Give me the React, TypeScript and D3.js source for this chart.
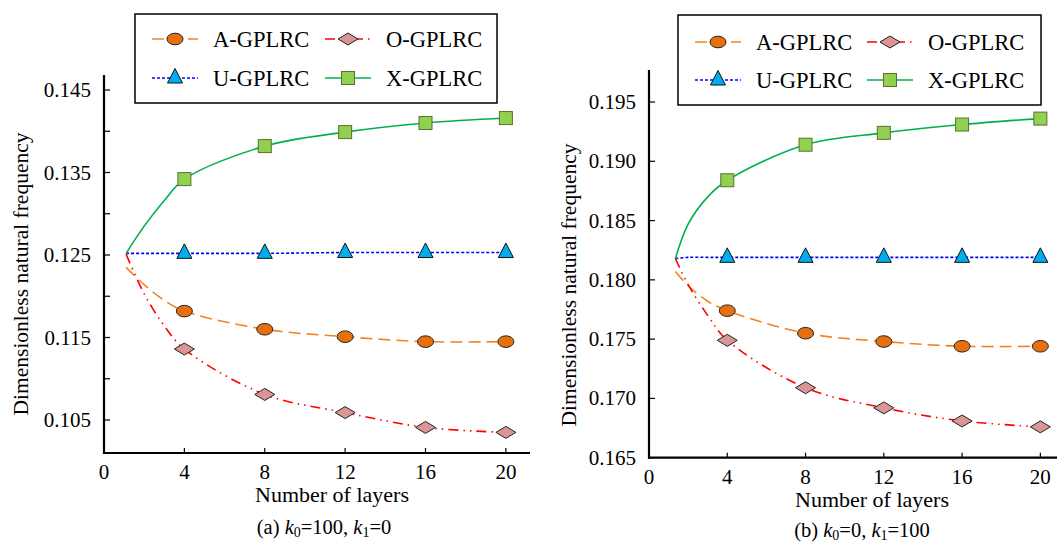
import React from "react";
import * as d3 from "d3";

// ---------- data ----------
const seriesNames = ["A-GPLRC", "O-GPLRC", "U-GPLRC", "X-GPLRC"];
const markerLayers = [4, 8, 12, 16, 20];
const xTickValues = [0, 4, 8, 12, 16, 20];

const leftLayers = [1.1, 2, 3, 4, 8, 12, 16, 20];
const leftA = [0.1235, 0.1214, 0.1195, 0.1182, 0.116, 0.1151, 0.1145, 0.1145];
const leftO = [0.1251, 0.1203, 0.1164, 0.1136, 0.1081, 0.1059, 0.1041, 0.1035];
const leftU = [0.1252, 0.1252, 0.1252, 0.1252, 0.1252, 0.1253, 0.1253, 0.1253];
const leftX = [0.1252, 0.1285, 0.1316, 0.1342, 0.1382, 0.1399, 0.141, 0.1416];
const leftYTicks = [0.105, 0.11, 0.115, 0.12, 0.125, 0.13, 0.135, 0.14, 0.145];
const leftYLabels = [0.105, 0.115, 0.125, 0.135, 0.145];

const rightLayers = [1.35, 2, 3, 4, 8, 12, 16, 20];
const rightA = [0.1807, 0.1795, 0.1782, 0.1774, 0.1755, 0.1748, 0.1744, 0.1744];
const rightO = [0.1818, 0.1796, 0.177, 0.1749, 0.1709, 0.1692, 0.1681, 0.1676];
const rightU = [0.1818, 0.1819, 0.1819, 0.1819, 0.1819, 0.1819, 0.1819, 0.1819];
const rightX = [0.1818, 0.1847, 0.187, 0.1884, 0.1914, 0.1924, 0.1931, 0.1936];
const rightYTicks = [0.165, 0.17, 0.175, 0.18, 0.185, 0.19, 0.195];
const rightYLabels = [0.165, 0.17, 0.175, 0.18, 0.185, 0.19, 0.195];

// ---------- styles ----------
const FONT = "'Liberation Serif', 'Times New Roman', serif";
const styles: Record<string, { stroke: string; dash: string; width: number; fill: string; mStroke: string; shape: string }> = {
  "A-GPLRC": { stroke: "#F08424", dash: "12,6", width: 1.6, fill: "#E8700C", mStroke: "#222", shape: "ellipse" },
  "O-GPLRC": { stroke: "#FF0000", dash: "10,5,1.5,5,1.5,5", width: 1.6, fill: "#D99694", mStroke: "#222", shape: "diamond" },
  "U-GPLRC": { stroke: "#0000FF", dash: "3,2", width: 1.6, fill: "#00AEEF", mStroke: "#111", shape: "triangle" },
  "X-GPLRC": { stroke: "#00B050", dash: "", width: 1.6, fill: "#92D050", mStroke: "#5A7030", shape: "square" },
};

function Marker({ shape, x, y, fill, stroke }: { shape: string; x: number; y: number; fill: string; stroke: string }) {
  if (shape === "ellipse") return <ellipse cx={x} cy={y} rx={8} ry={5.8} fill={fill} stroke={stroke} strokeWidth={1} />;
  if (shape === "diamond")
    return <path d={`M${x - 10},${y} L${x},${y - 6} L${x + 10},${y} L${x},${y + 6} Z`} fill={fill} stroke={stroke} strokeWidth={1} />;
  if (shape === "triangle")
    return <path d={`M${x},${y - 9.5} L${x + 7.5},${y + 5} L${x - 7.5},${y + 5} Z`} fill={fill} stroke={stroke} strokeWidth={1} />;
  return <rect x={x - 6.5} y={y - 6.5} width={13} height={13} fill={fill} stroke={stroke} strokeWidth={1} />;
}

type PanelProps = {
  layers: number[];
  values: number[][];
  xRange: [number, number];
  xMax: number;
  yDomain: [number, number];
  yRange: [number, number];
  yTicks: number[];
  yLabels: number[];
  legendBox: { x: number; y: number; w: number; h: number; rows: number[]; cols: number[] };
  yTitleX: number;
  yTitleY: number;
  xTitleX: number;
  captionX: number;
  captionY: number;
  caption: [string, string, string];
};

function Panel(p: PanelProps) {
  const x = d3.scaleLinear().domain([0, p.xMax]).range(p.xRange);
  const y = d3.scaleLinear().domain(p.yDomain).range(p.yRange);
  const x0 = p.xRange[0];
  const yBottom = p.yRange[0];
  const line = d3
    .line<[number, number]>()
    .x((d) => x(d[0]))
    .y((d) => y(d[1]))
    .curve(d3.curveCatmullRom.alpha(0.5));
  const tickFont = 21;
  const lb = p.legendBox;
  return (
    <g fontFamily={FONT} fill="#000">
      {/* series lines */}
      {seriesNames.map((name, i) => {
        const st = styles[name];
        const pts = p.layers.map((l, j) => [l, p.values[i][j]] as [number, number]);
        return (
          <path key={name} d={line(pts) || ""} fill="none" stroke={st.stroke} strokeWidth={st.width} strokeDasharray={st.dash || undefined} />
        );
      })}
      {/* markers */}
      {seriesNames.map((name, i) => {
        const st = styles[name];
        return p.layers.map((l, j) =>
          markerLayers.includes(l) ? (
            <Marker key={name + l} shape={st.shape} x={x(l)} y={y(p.values[i][j])} fill={st.fill} stroke={st.mStroke} />
          ) : null
        );
      })}
      {/* axes */}
      <line x1={x0} x2={x0} y1={p.yRange[1]} y2={yBottom + 1} stroke="#000" strokeWidth={2.2} />
      <line x1={x0 - 1} x2={p.xRange[1]} y1={yBottom} y2={yBottom} stroke="#000" strokeWidth={2.2} />
      {p.yTicks.map((t) => (
        <line key={"yt" + t} x1={x0} x2={x0 + 6} y1={y(t)} y2={y(t)} stroke="#000" strokeWidth={1.2} />
      ))}
      {p.yLabels.map((t) => (
        <text key={"yl" + t} x={x0 - 13} y={y(t) + 7} fontSize={tickFont} textAnchor="end">
          {t.toFixed(3)}
        </text>
      ))}
      {xTickValues.map((t) =>
        t > 0 ? <line key={"xt" + t} x1={x(t)} x2={x(t)} y1={yBottom} y2={yBottom - 5} stroke="#000" strokeWidth={1.2} /> : null
      )}
      {xTickValues.map((t) => (
        <text key={"xl" + t} x={x(t)} y={yBottom + 26} fontSize={tickFont} textAnchor="middle">
          {t}
        </text>
      ))}
      <text x={p.xTitleX} y={yBottom + 49} fontSize={22} textAnchor="middle">
        Number of layers
      </text>
      <text x={p.captionX} y={p.captionY} fontSize={20.5} textAnchor="middle">
        {p.caption[0]}
        <tspan fontStyle="italic">k</tspan>
        <tspan fontSize={14} dy={3}>0</tspan>
        <tspan dy={-3}>{p.caption[1]}</tspan>
        <tspan fontStyle="italic">k</tspan>
        <tspan fontSize={14} dy={3}>1</tspan>
        <tspan dy={-3}>{p.caption[2]}</tspan>
      </text>
      <text transform={`translate(${p.yTitleX},${p.yTitleY}) rotate(-90)`} fontSize={21.5} textAnchor="middle">
        Dimensionless natural frequency
      </text>
      {/* legend */}
      <rect x={lb.x} y={lb.y} width={lb.w} height={lb.h} fill="#fff" stroke="#000" strokeWidth={1.5} />
      {seriesNames.map((name, i) => {
        const st = styles[name];
        const cx = lb.cols[i % 2];
        const cy = lb.rows[Math.floor(i / 2)];
        return (
          <g key={"lg" + name}>
            <line x1={cx - 23} x2={cx + 23} y1={cy} y2={cy} stroke={st.stroke} strokeWidth={st.width} strokeDasharray={st.dash || undefined} />
            <Marker shape={st.shape} x={cx} y={cy} fill={st.fill} stroke={st.mStroke} />
            <text x={cx + 38} y={cy + 8} fontSize={22.5}>
              {name}
            </text>
          </g>
        );
      })}
    </g>
  );
}

export default function App() {
  return (
    <svg width={1057} height={545} style={{ display: "block", position: "absolute", left: 0, top: 0, background: "#fff" }}>
      <rect x={0} y={0} width={1057} height={545} fill="#fff" />
      <Panel
        layers={leftLayers}
        values={[leftA, leftO, leftU, leftX]}
        xRange={[104, 530]}
        xMax={21.2}
        yDomain={[0.101, 0.14682]}
        yRange={[453, 75]}
        yTicks={leftYTicks}
        yLabels={leftYLabels}
        legendBox={{ x: 135, y: 14, w: 362, h: 89, rows: [39, 78], cols: [175, 348] }}
        yTitleX={28}
        yTitleY={274}
        xTitleX={332}
        captionX={324}
        captionY={534}
        caption={["(a) ", "=100, ", "=0"]}
      />
      <Panel
        layers={rightLayers}
        values={[rightA, rightO, rightU, rightX]}
        xRange={[649, 1057]}
        xMax={20.85}
        yDomain={[0.165, 0.1977]}
        yRange={[457.7, 70]}
        yTicks={rightYTicks}
        yLabels={rightYLabels}
        legendBox={{ x: 678, y: 15, w: 363, h: 90, rows: [42, 80], cols: [718, 890] }}
        yTitleX={576}
        yTitleY={285}
        xTitleX={872}
        captionX={862}
        captionY={537}
        caption={["(b) ", "=0, ", "=100"]}
      />
    </svg>
  );
}
